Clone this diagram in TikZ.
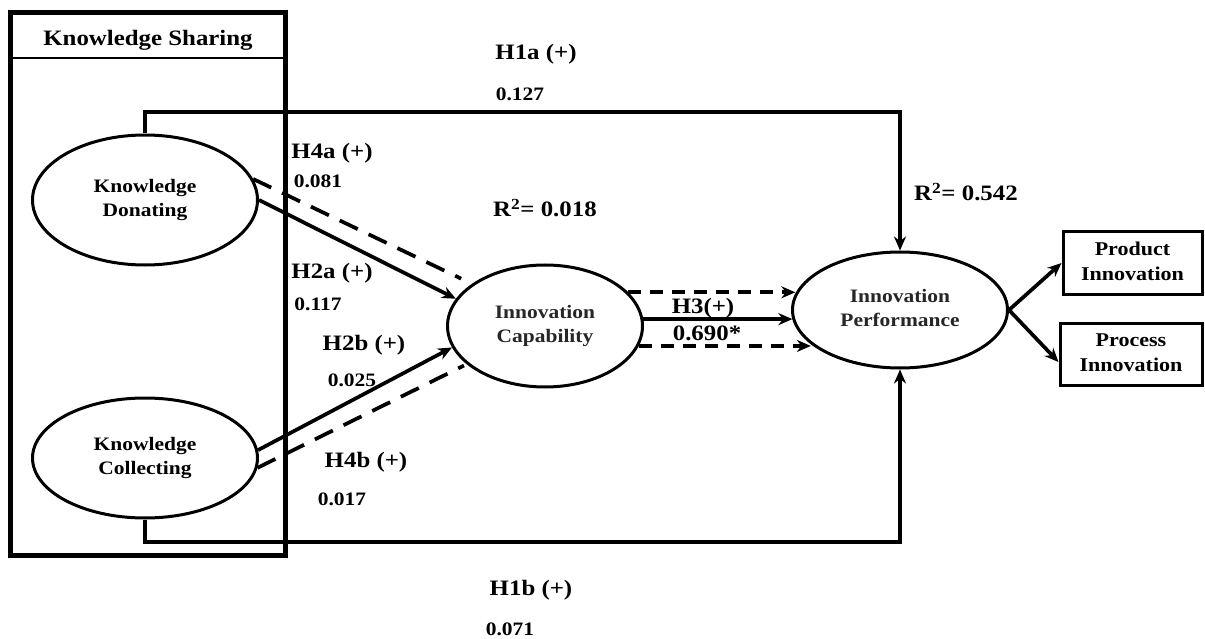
\documentclass[tikz,border=0pt]{standalone}
\usepackage{fontspec}
\setmainfont{Liberation Serif}
\usetikzlibrary{arrows.meta,shapes.geometric,calc}
\newcommand{\T}[1]{\scalebox{1.13}[1]{#1}}
\begin{document}
\begin{tikzpicture}[x=1pt,y=-1pt,
  ell/.style={ellipse, draw, line width=3pt, inner sep=0pt, font=\fontsize{19}{24}\selectfont\bfseries},
  boxn/.style={draw, line width=3pt, inner sep=0pt, font=\fontsize{19.5}{25}\selectfont\bfseries},
  lab/.style={font=\fontsize{22}{26}\selectfont\bfseries, inner sep=0pt},
  num/.style={font=\fontsize{19}{22}\selectfont\bfseries, inner sep=0pt},
  conn/.style={line width=3.7pt},
  arr/.style={conn, -{Stealth[length=14pt,width=12pt]}},
  dsh/.style={conn, dash pattern=on 20pt off 12pt},
  dshs/.style={dash pattern=on 13pt off 9pt}]
\useasboundingbox (0,0) rectangle (1205,639);
\fill[white] (0,0) rectangle (1205,639);

% Knowledge sharing frame
\node[draw, line width=5pt, minimum width=275pt, minimum height=543pt, inner sep=0pt] (KS) at (148,284) {};
\coordinate (hl) at (0,58);
\draw[line width=1.2pt] (KS.west |- hl) -- (KS.east |- hl);
\node[lab] (kst) at (148,40) {\T{Knowledge Sharing}};

% constructs
\node[ell, minimum width=225pt, minimum height=130pt] (KD) at (145,200)
  {\T{\begin{tabular}{@{}c@{}}Knowledge\\Donating\end{tabular}}};
\node[ell, minimum width=225pt, minimum height=120pt] (KC) at (145,458)
  {\T{\begin{tabular}{@{}c@{}}Knowledge\\Collecting\end{tabular}}};
\node[ell, minimum width=195pt, minimum height=122pt, text=black!85] (IC) at (545,326)
  {\T{\begin{tabular}{@{}c@{}}Innovation\\Capability\end{tabular}}};
\node[ell, minimum width=215pt, minimum height=116pt, text=black!85] (IP) at (900,310)
  {\T{\begin{tabular}{@{}c@{}}Innovation\\Performance\end{tabular}}};
\node[boxn, minimum width=139pt, minimum height=62pt] (Prod) at (1132.5,263)
  {\T{\begin{tabular}{@{}c@{}}Product\\Innovation\end{tabular}}};
\node[boxn, minimum width=142pt, minimum height=62pt] (Proc) at (1131,354)
  {\T{\begin{tabular}{@{}c@{}}Process\\Innovation\end{tabular}}};

% H1a / H1b
\coordinate (tl) at (500,112);
\coordinate (bl) at (500,542);
\draw[arr] (KD.north) |- (tl) -| (IP.north);
\draw[arr] (KC.south) |- (bl) -| (IP.south);

% H2 / H4
\draw[arr] (KD.0) -- (IC.163);
\draw[dsh, shorten >=12pt] (KD.11) -- (IC.150);
\draw[arr] (KC.4) -- (IC.193);
\draw[dsh, shorten >=3pt] (KC.-5) -- (IC.206);

% H3
\draw[arr, dshs] (IC.22) -- (IC.22 -| IP.171);
\draw[arr] (IC.4) -- (IC.4 -| IP.185);
\draw[arr, dshs] (IC.-12) -- (IC.-12 -| IP.201);

% indicators
\draw[arr] (IP.east) -- (Prod.west);
\draw[arr] (IP.east) -- ([yshift=-8pt]Proc.west);

% labels
\node[lab] (h1a) at (536,54) {\T{H1a (+)}};
\node[num] (n1a) at (520,94) {\T{0.127}};
\node[lab] (r1) at (545,208) {\T{R\textsuperscript{2}= 0.018}};
\node[lab] (r2) at (966,192) {\T{R\textsuperscript{2}= 0.542}};
\node[lab] (h4a) at (332,153) {\T{H4a (+)}};
\node[num] (n4a) at (318,181) {\T{0.081}};
\node[lab] (h2a) at (332,273) {\T{H2a (+)}};
\node[num] (n2a) at (318,304) {\T{0.117}};
\node[lab] (h2b) at (364,345) {\T{H2b (+)}};
\node[num] (n2b) at (352,380) {\T{0.025}};
\node[lab] (h4b) at (366,462) {\T{H4b (+)}};
\node[num] (n4b) at (342,499) {\T{0.017}};
\node[lab] (h3) at (703,308) {\T{H3(+)}};
\node[lab] (n3) at (707,333) {\T{0.690*}};
\node[lab] (h1b) at (531,590) {\T{H1b (+)}};
\node[num] (n1b) at (510,629) {\T{0.071}};
\end{tikzpicture}
\end{document}
